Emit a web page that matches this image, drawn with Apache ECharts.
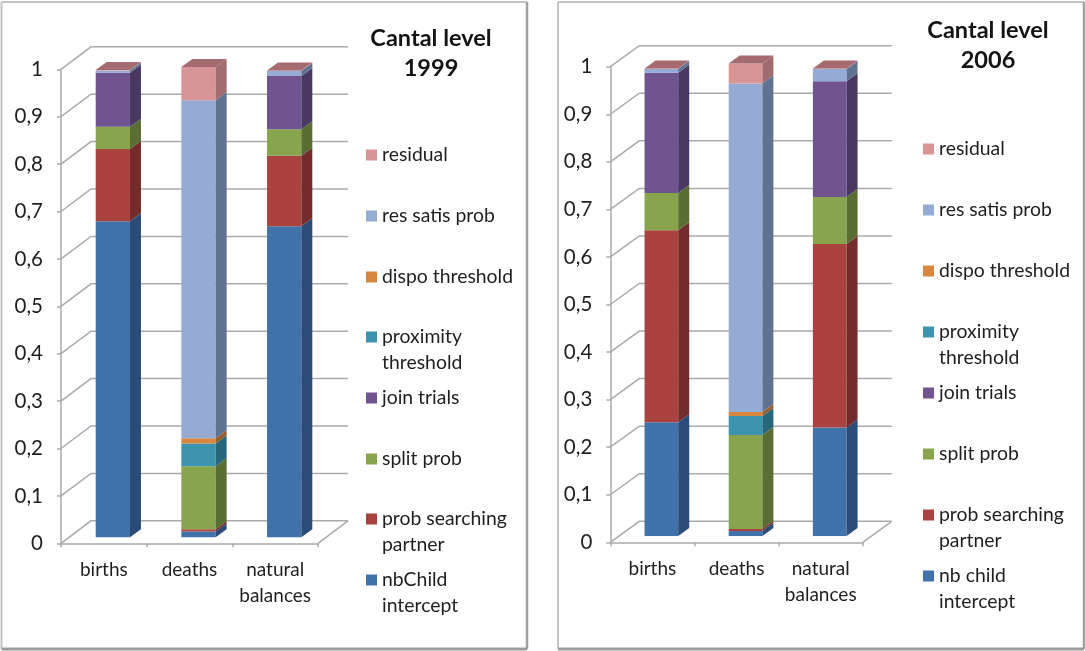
<!DOCTYPE html>
<html><head><meta charset="utf-8">
<style>html,body{margin:0;padding:0;background:#fff}#c{width:1085px;height:651px;filter:blur(0.45px)}</style>
<script src="https://cdn.jsdelivr.net/npm/echarts@6/dist/echarts.min.js"></script>
</head><body><div id="c"></div>
<script>
const categories1999 = ['births','deaths','natural\nbalances'];
const categories2006 = ['births','deaths','natural\nbalances'];
const yTicks = [0,0.1,0.2,0.3,0.4,0.5,0.6,0.7,0.8,0.9,1];
const yTickLabels = ['0','0,1','0,2','0,3','0,4','0,5','0,6','0,7','0,8','0,9','1'];

const names1999 = ['nbChild intercept','prob searching partner','split prob','join trials','proximity threshold','dispo threshold','res satis prob','residual'];
const names2006 = ['nb child intercept','prob searching partner','split prob','join trials','proximity threshold','dispo threshold','res satis prob','residual'];
const legendLines1999 = ['nbChild\nintercept','prob searching\npartner','split prob','join trials','proximity\nthreshold','dispo threshold','res satis prob','residual'];
const legendLines2006 = ['nb child\nintercept','prob searching\npartner','split prob','join trials','proximity\nthreshold','dispo threshold','res satis prob','residual'];

// segment heights: births, deaths, natural balances
const intercept1999 = [0.667,0.012,0.656];
const searching1999 = [0.152,0.005,0.149];
const split1999     = [0.047,0.133,0.056];
const join1999      = [0.114,0,0.112];
const proximity1999 = [0,0.048,0];
const dispo1999     = [0,0.011,0];
const satis1999     = [0.005,0.713,0.011];
const residual1999  = [0.001,0.070,0.001];

const intercept2006 = [0.239,0.0105,0.228];
const searching2006 = [0.404,0.004,0.386];
const split2006     = [0.078,0.198,0.099];
const join2006      = [0.253,0,0.243];
const proximity2006 = [0,0.040,0];
const dispo2006     = [0,0.008,0];
const satis2006     = [0.008,0.691,0.026];
const residual2006  = [0.001,0.042,0.001];

const values1999 = [intercept1999,searching1999,split1999,join1999,proximity1999,dispo1999,satis1999,residual1999];
const values2006 = [intercept2006,searching2006,split2006,join2006,proximity2006,dispo2006,satis2006,residual2006];

const frontColors = ['#4172A9','#AA4340','#88A44D','#6F548F','#3C93AE','#D98640','#95ABD3','#D99596'];
const sideColors  = ['#2B4B78','#732C2B','#5A6E33','#493862','#27677B','#9A5E2C','#5F7390','#A06C6F'];
const capColor = '#A56B70';
const FONT = 'Lato, "Noto Sans", sans-serif';
const TXT = '#1f1f1f';
const LINE = '#ABABAB';

const panels = [
 {cats:categories1999,names:names1999,legend:legendLines1999,values:values1999,
  left:61,top:69.3,width:257,height:474,wall:[30,-22.5],front:[9,-6],
  legX:366,legY:[580,519,459,398,337,277,216,155],title:'Cantal level\n1999',titleX:426,titleY:18},
 {cats:categories2006,names:names2006,legend:legendLines2006,values:values2006,
  left:610.3,top:66.7,width:252.5,height:475.6,wall:[29,-21],front:[9,-6.3],
  legX:923,legY:[576,515,454,393,332,271,210,149],title:'Cantal level\n2006',titleX:983,titleY:10}
];
const SIDE=[11,-8], BAR=0.4;

function frameParts(x1,y1,x2,y2){
 const light={stroke:'#C4C4C4',lineWidth:2}, dark={stroke:'#A0A0A0',lineWidth:2.5};
 return [
  {type:'line',shape:{x1,y1,x2,y2:y1},style:light,z:-1},
  {type:'line',shape:{x1,y1,x2:x1,y2},style:light,z:-1},
  {type:'line',shape:{x1:x2,y1,x2,y2},style:dark,z:-1},
  {type:'line',shape:{x1,y1:y2,x2,y2},style:{stroke:'#9C9C9C',lineWidth:3},z:-1}
 ];
}

const option = {animation:false,backgroundColor:'#fff',grid:[],xAxis:[],yAxis:[],series:[],legend:[],title:[],
 graphic:[...frameParts(1.5,2,527,649),...frameParts(558,2,1084,649)]};

panels.forEach((p,pi)=>{
 option.grid.push({left:p.left,top:p.top,width:p.width,height:p.height,containLabel:false});
 option.xAxis.push({type:'category',gridIndex:pi,data:p.cats,
  axisLine:{lineStyle:{color:LINE,width:1.5}},axisTick:{show:true,alignWithLabel:false,length:4,lineStyle:{color:LINE,width:1.5}},
  axisLabel:{color:TXT,fontFamily:FONT,fontSize:19,lineHeight:26,margin:14,interval:0},splitLine:{show:false}});
 option.yAxis.push({type:'value',gridIndex:pi,min:0,max:1,interval:0.1,
  axisLine:{show:true,lineStyle:{color:LINE,width:1.5}},axisTick:{show:true,length:4,lineStyle:{color:LINE,width:1.5}},
  axisLabel:{color:TXT,fontFamily:FONT,fontSize:20.5,margin:18,formatter:v=>yTickLabels[Math.round(v*10)]},splitLine:{show:false}});

 // back wall, side wall and floor lines
 option.series.push({type:'custom',name:'walls'+pi,xAxisIndex:pi,yAxisIndex:pi,silent:true,clip:false,z:1,
  data:yTicks.map(v=>[0,v]),
  renderItem(params,api){
   const c=api.coord([0,api.value(1)]), rect=params.coordSys;
   const x0=rect.x,y=c[1],xe=rect.x+rect.width,[wx,wy]=p.wall;
   const ls={stroke:LINE,lineWidth:1.5,fill:null};
   const kids=[{type:'polyline',shape:{points:[[x0,y],[x0+wx,y+wy],[xe+wx,y+wy]]},style:ls}];
   if(api.value(1)===0) kids.push({type:'line',shape:{x1:xe,y1:y,x2:xe+wx,y2:y+wy},style:ls});
   return {type:'group',children:kids};
  }});

 // stacked 3D bars
 const lows=[0,0,0];
 p.values.forEach((vals,si)=>{
  const rows=vals.map((v,i)=>{const r=[i,lows[i],lows[i]+v];lows[i]+=v;return r;});
  const isTop=si===p.values.length-1;
  option.series.push({type:'custom',name:p.names[si],xAxisIndex:pi,yAxisIndex:pi,silent:true,clip:false,z:2,
   itemStyle:{color:frontColors[si]},data:rows,encode:{x:0,y:[1,2]},
   renderItem(params,api){
    const cat=api.value(0),lo=api.value(1),hi=api.value(2);
    if(hi-lo<=0) return;
    const a=api.coord([cat,lo]),b=api.coord([cat,hi]),w=api.size([1,0])[0]*BAR;
    const xl=a[0]+p.front[0]-w/2,xr=xl+w,yl=a[1]+p.front[1],yh=b[1]+p.front[1];
    const kids=[
     {type:'polygon',shape:{points:[[xl,yl],[xr,yl],[xr,yh],[xl,yh]]},style:{fill:frontColors[si]}},
     {type:'polygon',shape:{points:[[xr,yl],[xr+SIDE[0],yl+SIDE[1]],[xr+SIDE[0],yh+SIDE[1]],[xr,yh]]},style:{fill:sideColors[si]}}
    ];
    if(isTop) kids.push({type:'polygon',shape:{points:[[xl,yh],[xr,yh],[xr+SIDE[0],yh+SIDE[1]],[xl+SIDE[0],yh+SIDE[1]]]},style:{fill:capColor}});
    return {type:'group',children:kids};
   }});
 });

 // one legend entry per item, because spacing is by marker
 p.names.forEach((n,si)=>{
  const label=p.legend[si];
  const text='\n'+label+(label.includes('\n')?'':'\n ');
  option.legend.push({data:[n],left:p.legX,top:p.legY[si]-39,orient:'vertical',padding:0,selectedMode:false,
   icon:'rect',itemWidth:11,itemHeight:11,
   formatter:()=>text,
   textStyle:{color:TXT,fontFamily:FONT,fontSize:19.4,lineHeight:26}});
 });

 option.title.push({text:p.title,left:p.titleX,top:p.titleY,textAlign:'center',
  textStyle:{color:'#141414',fontFamily:FONT,fontSize:23.5,fontWeight:'bold',lineHeight:30}});
});

echarts.init(document.getElementById('c')).setOption(option);
</script></body></html>
